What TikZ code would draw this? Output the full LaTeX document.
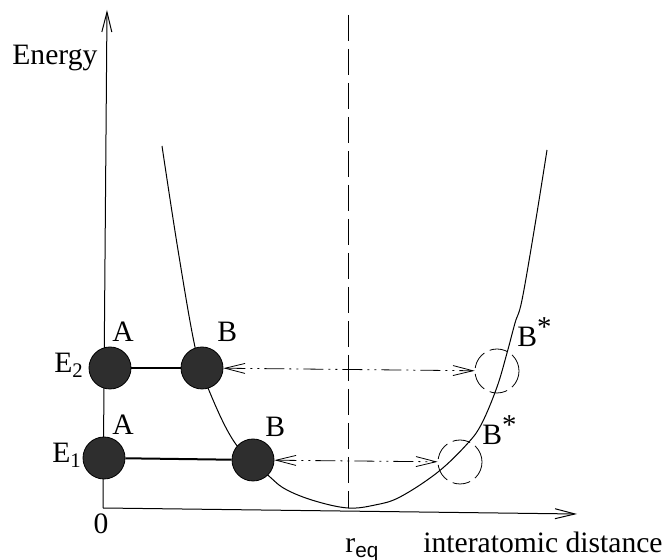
\documentclass[tikz,border=0pt]{standalone}
\usepackage{fontspec}
\setmainfont{Liberation Serif}
\setsansfont{Liberation Sans}
\usetikzlibrary{arrows.meta}

\begin{document}
\begin{tikzpicture}[
  x=0.5pt, y=-0.5pt,
  >={Straight Barb[length=10pt,width=5pt]},
  atom/.style={circle, draw, fill=black!82, minimum size=21pt, inner sep=0pt},
  ghost/.style={circle, draw, line width=0.4pt, dash pattern=on 9pt off 3pt, minimum size=22pt, inner sep=0pt},
  lbl/.style={font=\fontsize{14.8}{17}\selectfont, inner sep=0pt, anchor=base west},
  axis/.style={->, line width=0.5pt},
  swing/.style={<->, line width=0.4pt, dash pattern=on 10pt off 2.5pt on 1pt off 2.5pt on 1pt off 2.5pt}
]
\useasboundingbox (0,0) rectangle (664,560);

% AXES
\coordinate (O)    at (103,508);
\coordinate (ytop) at (107,10);
\coordinate (xend) at (577,514);
\draw[axis] (O) -- (ytop);
\draw[axis] (O) -- (xend);

% POTENTIAL CURVE
\draw[line width=0.5pt] plot[smooth, tension=0.6] coordinates {
  (162,146) (178,250) (195,347) (208,388) (235,443) (270,477) (287,490)
  (315,501) (348,508) (375,505) (400,497) (438,472) (468,443) (482,423)
  (497,387) (507,353) (515,323) (522,300) (535,225) (547,150)};

% EQUILIBRIUM DISTANCE
\coordinate (eqtop) at (348,15);
\coordinate (eqbot) at (348,508);
\draw[line width=0.5pt, dash pattern=on 13pt off 4pt] (eqtop) -- (eqbot);

% ATOMS
\node[atom]  (A2) at (110,368) {};
\node[atom]  (B2) at (202,368) {};
\node[atom]  (A1) at (104,458) {};
\node[atom]  (B1) at (253,460) {};
\node[ghost] (S2) at (497,371) {};
\node[ghost] (S1) at (460,462) {};

\draw[line width=0.7pt] (A2) -- (B2);
\draw[line width=1pt]   (A1) -- (B1);
\draw[swing] (B2) -- (S2);
\draw[swing] (B1) -- (S1);

% LABELS
\node[lbl] (energy) at (12,65)   {Energy};
\node[lbl] (e2)     at (54,373)  {E\textsubscript{2}};
\node[lbl] (e1)     at (52,463)  {E\textsubscript{1}};
\node[lbl] (a2)     at (112,342) {A};
\node[lbl] (a1)     at (112,435) {A};
\node[lbl] (b2)     at (217,342) {B};
\node[lbl] (b1)     at (265,437) {B};
\node[lbl] (s2)     at (517,347) {B\textsuperscript{\Large *}};
\node[lbl] (s1)     at (482,445) {B\textsuperscript{\Large *}};
\node[lbl, anchor=base] (zero) at (101,534) {0};
\node[lbl] (req)    at (345,553) {r\textsubscript{\sffamily eq}};
\node[lbl] (dist)   at (423,553) {interatomic distance};
\end{tikzpicture}
\end{document}
